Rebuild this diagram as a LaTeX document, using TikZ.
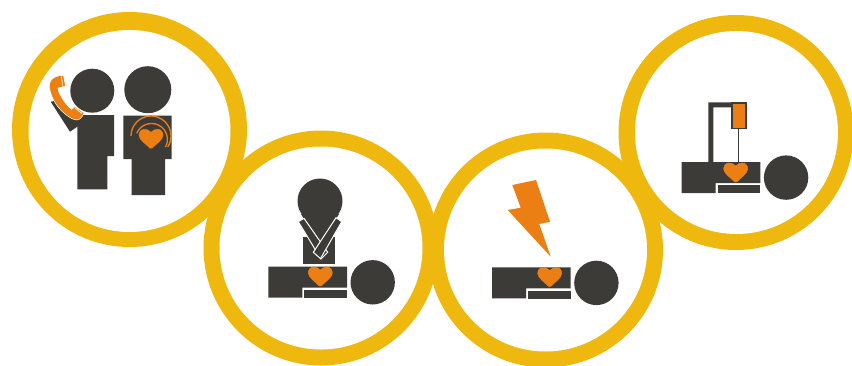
\documentclass[tikz,border=0pt]{standalone}
\usepackage{tikz}

\definecolor{ringyellow}{HTML}{EEB80F}
\definecolor{bodygray}{HTML}{3C3B37}
\definecolor{heartorange}{HTML}{EB7F14}

\tikzset{
  ring/.style={fill=ringyellow},
  hole/.style={fill=white},
  figure/.style={fill=bodygray},
  accent/.style={fill=heartorange},
  pulse/.style={draw=heartorange,line width=1.3pt},
}

% heart with its dip on x=#1 and its top at y=#2
\newcommand{\heartat}[2]{%
  \filldraw[accent,draw=heartorange,line width=0.5pt,shift={(#1,#2)}] (0,3) .. controls (-2,0.8) and (-4.5,0) .. (-6.5,0)
    .. controls (-10,0) and (-12,2.8) .. (-12,6)
    .. controls (-12,10.5) and (-4.5,15) .. (-1.2,18.8)
    .. controls (-0.5,19.5) and (0.5,19.5) .. (1.2,18.8)
    .. controls (4.5,15) and (12,10.5) .. (12,6)
    .. controls (12,2.8) and (10,0) .. (6.5,0)
    .. controls (4.5,0) and (2,0.8) .. (0,3) -- cycle;}

% lying patient, drawn at the place it has under the second circle when #1 = #2 = 0
\newcommand{\patient}[2]{%
  \begin{scope}[shift={(#1,#2)}]
    \fill[figure] (268.3,266.7) -- (347,266.7) -- (347,287.7) -- (302.3,287.7)
      -- (302.3,297.7) -- (268.3,297.7) -- cycle;
    \fill[figure] (304.3,290) rectangle (347,298);
    \fill[figure] (372.7,282.3) circle[radius=22.2];
  \end{scope}}

\begin{document}
\begin{tikzpicture}[x=1pt,y=1pt,yscale=-1]
  \useasboundingbox (0,0) rectangle (852,365);

  % the four rings
  \fill[ring] (129.5,129.5) circle[radius=117.5];
  \fill[ring] (321,248) circle[radius=117.5];
  \fill[ring] (545.5,250) circle[radius=117.5];
  \fill[ring] (736,132.5) circle[radius=117.5];
  \fill[hole] (129.5,131) circle[radius=101];
  \fill[hole] (321,248) circle[radius=101.5];
  \fill[hole] (545.5,250) circle[radius=101.5];
  \fill[hole] (736.5,132.5) circle[radius=101.5];

  % caller
  \fill[figure] (50.7,101.7) -- (70,131.7) -- (78.3,126) -- (78.3,116) -- (60,100) -- cycle;
  \fill[figure] (92.3,90.7) circle[radius=22];
  \fill[figure] (77.3,115) -- (114,115) -- (114,156) -- (107.3,156) -- (107.3,189.3)
    -- (77.3,189.3) -- cycle;
  \filldraw[accent,draw=white,line width=0.5pt] (63.5,75.5) .. controls (58,75) and (52.5,77.5) .. (50.5,81)
    .. controls (49,85) and (49.3,88) .. (50,90.5)
    .. controls (52.5,100) and (57,107) .. (64,113)
    .. controls (69,117.5) and (73.5,120) .. (77,120)
    .. controls (80.5,119.5) and (83,116) .. (84,113)
    -- (75,106.5) .. controls (74,107.5) and (73,108.5) .. (71.5,109.5)
    .. controls (67,105.5) and (62,99.5) .. (59.5,93.5)
    .. controls (58.5,91) and (58,89.5) .. (58,88)
    .. controls (60,87.5) and (62.5,87) .. (65.5,86) -- cycle;
  \draw[white,line width=0.7pt] (61.5,76.5) -- (62.5,85.5) (75,108) -- (82,113.5);

  % bystander with the heart
  \fill[figure] (147.8,89.7) circle[radius=23.5];
  \fill[figure] (123.3,115.7) -- (171.7,115.7) -- (171.7,159) -- (165,159) -- (165,195)
    -- (131.7,195) -- (131.7,159) -- (123.3,159) -- cycle;
  \heartat{151}{129.3}
  \draw[pulse] (151,136) ++(180:20) arc[start angle=180,end angle=393,radius=20];
  \draw[pulse] (151.5,139.5) ++(202.7:16) arc[start angle=202.7,end angle=388.8,radius=16];

  % rescuer pressing the chest
  \fill[figure] (303.3,237) rectangle (335.3,263.7);
  \fill[figure] (320,201) circle[radius=22.5];
  \fill[figure] (301,214) -- (320,246) -- (339,214) -- cycle;
  \filldraw[figure,draw=white,line width=1pt] (298.3,221.7) -- (304,218.3) -- (327.7,252.3)
    -- (321,259) -- cycle;
  \filldraw[figure,draw=white,line width=1pt] (336,217.7) -- (341.7,221.7) -- (320.5,258.6)
    -- (313.3,252.3) -- cycle;
  \patient{0}{0}
  \heartat{320.3}{267}

  % shock
  \patient{223.7}{0.6}
  \fill[accent] (512.3,185) -- (536,180) -- (550,221.7) -- (539.3,224) -- (550.7,256.7)
    -- (507.7,210) -- (520.7,207.7) -- cycle;
  \heartat{549.7}{267.5}

  % infusion
  \patient{413.4}{-104.7}
  \fill[figure] (708.3,162) -- (708.3,102.3) -- (732,102.3) -- (732,107.3) -- (713.3,107.3)
    -- (713.3,162) -- cycle;
  \fill[figure] (730.7,102.3) rectangle (747.3,129.3);
  \fill[accent] (732.5,104.3) rectangle (745,127.5);
  \draw[bodygray,line width=1.5pt] (738.3,129) -- (738.3,165);
  \heartat{735.7}{163}
\end{tikzpicture}
\end{document}
